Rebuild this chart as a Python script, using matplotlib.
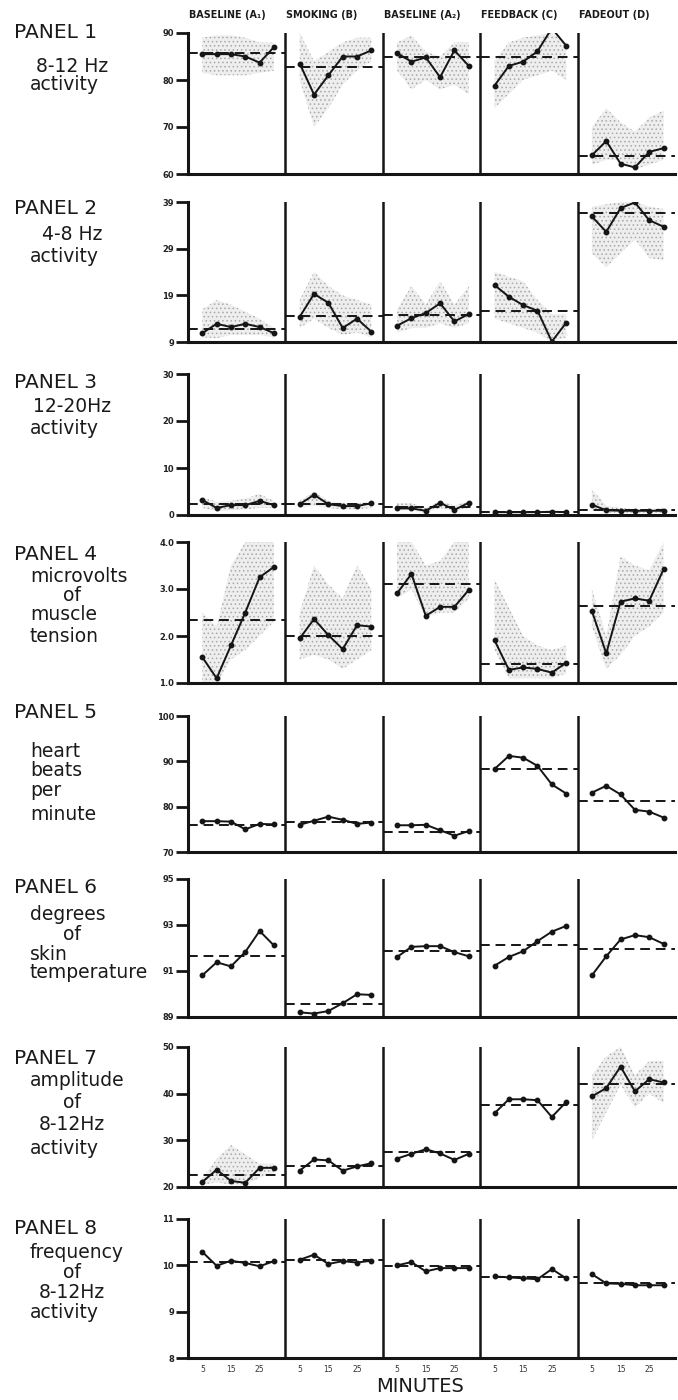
import numpy as np
import matplotlib.pyplot as plt

plt.rcParams['font.family'] = ['DejaVu Sans']
plt.rcParams['hatch.linewidth'] = 0.6

W, H = 678, 1400

phases = ['BASELINE (A₁)', 'SMOKING (B)', 'BASELINE (A₂)', 'FEEDBACK (C)', 'FADEOUT (D)']
minutes = [5, 10, 15, 20, 25, 30]
phase_len = 34
minute_ticks = [5, 15, 25]

# ---- panel 1: 8-12 Hz activity ----
p1_vals = [[85.5, 85.5, 85.5, 85.0, 83.7, 87.0],
           [83.5, 76.9, 81.0, 85.0, 85.0, 86.3],
           [85.7, 83.9, 84.8, 80.6, 86.3, 83.0],
           [78.8, 83.0, 83.9, 86.1, 91.0, 87.3],
           [64.0, 67.0, 62.2, 61.4, 64.7, 65.5]]
p1_mean = [85.7, 82.8, 85.0, 85.0, 63.8]
p1_hi = [[89.0, 89.5, 89.5, 89.0, 88.0, 88.0],
         [90.0, 84.0, 86.0, 88.0, 89.0, 89.0],
         [88.0, 89.5, 86.0, 85.0, 88.0, 88.0],
         [84.0, 88.0, 89.0, 89.5, 90.0, 88.0],
         [70.0, 74.0, 71.0, 69.0, 72.0, 73.5]]
p1_lo = [[81.5, 81.0, 81.0, 81.0, 81.5, 82.0],
         [80.0, 70.0, 74.0, 79.0, 82.0, 84.0],
         [82.0, 78.0, 80.0, 78.0, 79.0, 77.0],
         [74.0, 77.0, 80.0, 81.0, 82.0, 80.0],
         [62.0, 63.0, 63.0, 61.0, 62.0, 63.0]]

# ---- panel 2: 4-8 Hz activity ----
p2_vals = [[10.9, 12.9, 12.2, 12.9, 12.2, 10.9],
           [14.4, 19.3, 17.4, 12.0, 14.0, 11.2],
           [12.5, 14.1, 15.2, 17.3, 13.4, 15.0],
           [21.2, 18.7, 16.9, 15.7, 9.1, 13.1],
           [35.9, 32.6, 37.7, 38.9, 35.1, 33.7]]
p2_mean = [11.7, 14.6, 14.8, 15.6, 36.6]
p2_hi = [[16.0, 18.0, 17.0, 15.5, 14.0, 12.0],
         [18.0, 24.0, 21.0, 19.0, 18.0, 17.0],
         [16.0, 21.0, 17.0, 22.0, 17.0, 21.0],
         [24.0, 23.0, 22.0, 18.0, 15.0, 15.0],
         [38.0, 38.5, 39.0, 39.0, 38.0, 37.5]]
p2_lo = [[10.0, 9.8, 10.5, 10.5, 10.5, 10.0],
         [12.0, 14.0, 12.0, 10.5, 11.0, 10.0],
         [11.0, 12.0, 12.0, 13.0, 12.0, 13.0],
         [14.0, 13.0, 12.0, 11.0, 9.0, 10.0],
         [28.0, 25.0, 28.0, 31.0, 27.0, 26.5]]

# ---- panel 3: 12-20 Hz activity ----
p3_vals = [[3.2, 1.5, 2.1, 2.1, 3.0, 2.1],
           [2.3, 4.3, 2.3, 1.9, 1.9, 2.5],
           [1.4, 1.4, 0.9, 2.6, 1.1, 2.6],
           [0.6, 0.6, 0.6, 0.6, 0.7, 0.6],
           [2.2, 1.0, 0.9, 0.9, 0.9, 0.9]]
p3_mean = [2.3, 2.4, 1.6, 0.6, 1.1]
p3_hi = [[3.8, 2.8, 3.0, 3.5, 4.5, 3.0],
         [3.0, 5.0, 3.0, 2.5, 2.5, 3.0],
         [2.5, 2.5, 1.5, 3.0, 2.0, 3.0],
         None,
         [5.5, 2.0, 1.5, 1.2, 1.2, 1.5]]
p3_lo = [[1.5, 0.8, 1.0, 1.2, 1.5, 1.5],
         [1.5, 2.0, 1.5, 1.2, 1.2, 1.5],
         [1.0, 1.0, 0.5, 1.5, 0.8, 1.5],
         None,
         [1.5, 0.5, 0.5, 0.5, 0.5, 0.5]]

# ---- panel 4: microvolts of muscle tension ----
p4_vals = [[1.55, 1.1, 1.8, 2.5, 3.25, 3.47],
           [1.95, 2.36, 2.02, 1.72, 2.23, 2.2],
           [2.91, 3.32, 2.43, 2.62, 2.62, 2.98],
           [1.91, 1.28, 1.33, 1.30, 1.22, 1.43],
           [2.53, 1.63, 2.73, 2.80, 2.75, 3.42]]
p4_mean = [2.33, 2.0, 3.1, 1.4, 2.64]
p4_hi = [[2.5, 2.2, 3.5, 4.0, 4.0, 4.0],
         [2.5, 3.5, 3.1, 2.8, 3.5, 3.0],
         [4.0, 4.0, 3.5, 3.6, 4.0, 4.0],
         [3.2, 2.6, 2.0, 1.8, 1.7, 1.8],
         [3.0, 2.0, 3.7, 3.5, 3.4, 4.0]]
p4_lo = [[1.0, 1.0, 1.5, 1.7, 2.0, 2.3],
         [1.5, 1.6, 1.5, 1.3, 1.5, 1.7],
         [2.8, 3.0, 2.4, 2.5, 2.5, 2.8],
         [1.7, 1.1, 1.1, 1.1, 1.1, 1.2],
         [2.2, 1.3, 1.6, 2.0, 2.2, 2.5]]

# ---- panel 5: heart beats per minute ----
p5_vals = [[76.8, 76.8, 76.7, 75.0, 76.2, 76.1],
           [76.0, 76.9, 77.8, 77.1, 76.2, 76.5],
           [75.9, 75.9, 76.0, 74.8, 73.6, 74.6],
           [88.3, 91.2, 90.8, 89.0, 84.9, 82.9],
           [83.1, 84.6, 82.7, 79.3, 78.9, 77.6]]
p5_mean = [76.0, 76.6, 74.4, 88.2, 81.3]

# ---- panel 6: degrees of skin temperature ----
p6_vals = [[90.81, 91.38, 91.2, 91.83, 92.74, 92.11],
           [89.2, 89.15, 89.26, 89.6, 89.99, 89.96],
           [91.61, 92.05, 92.08, 92.08, 91.82, 91.64],
           [91.23, 91.61, 91.86, 92.3, 92.71, 92.96],
           [90.81, 91.64, 92.37, 92.56, 92.47, 92.18]]
p6_mean = [91.67, 89.55, 91.89, 92.15, 91.96]

# ---- panel 7: amplitude of 8-12 Hz activity ----
p7_vals = [[21.1, 23.7, 21.3, 20.9, 24.1, 24.1],
           [23.5, 25.9, 25.7, 23.5, 24.4, 25.1],
           [26.1, 27.1, 28.1, 27.2, 25.8, 27.1],
           [35.8, 38.8, 38.8, 38.6, 35.0, 38.2],
           [39.4, 41.2, 45.8, 40.5, 43.1, 42.4]]
p7_mean = [22.5, 24.6, 27.4, 37.6, 42.1]
p7_hi = [[22.0, 26.0, 29.0, 27.0, 25.0, 25.0],
         None, None, None,
         [44.0, 48.0, 50.0, 44.0, 47.0, 47.0]]
p7_lo = [[20.5, 21.0, 20.5, 20.5, 22.0, 23.0],
         None, None, None,
         [30.0, 36.0, 42.0, 37.0, 40.0, 38.0]]

# ---- panel 8: frequency of 8-12 Hz activity ----
p8_vals = [[10.29, 9.99, 10.1, 10.05, 9.98, 10.09],
           [10.12, 10.23, 10.03, 10.09, 10.06, 10.1],
           [10.0, 10.07, 9.87, 9.94, 9.94, 9.94],
           [9.76, 9.74, 9.72, 9.70, 9.92, 9.72],
           [9.81, 9.61, 9.60, 9.57, 9.57, 9.57]]
p8_mean = [10.07, 10.11, 9.98, 9.74, 9.62]

panel_vals = [p1_vals, p2_vals, p3_vals, p4_vals, p5_vals, p6_vals, p7_vals, p8_vals]
panel_means = [p1_mean, p2_mean, p3_mean, p4_mean, p5_mean, p6_mean, p7_mean, p8_mean]
panel_hi = [p1_hi, p2_hi, p3_hi, p4_hi, None, None, p7_hi, None]
panel_lo = [p1_lo, p2_lo, p3_lo, p4_lo, None, None, p7_lo, None]

y_ticks = [[60, 70, 80, 90], [9, 19, 29, 39], [0, 10, 20, 30], [1.0, 2.0, 3.0, 4.0],
           [70, 80, 90, 100], [89, 91, 93, 95], [20, 30, 40, 50], [8, 9, 10, 11]]
y_ticklabels = [['60', '70', '80', '90'], ['9', '19', '29', '39'], ['0', '10', '20', '30'],
                ['1.0', '2.0', '3.0', '4.0'], ['70', '80', '90', '100'],
                ['89', '91', '93', '95'], ['20', '30', '40', '50'], ['8', '9', '10', '11']]

panel_names = ['PANEL 1', 'PANEL 2', 'PANEL 3', 'PANEL 4',
               'PANEL 5', 'PANEL 6', 'PANEL 7', 'PANEL 8']
panel_sub = [['8-12 Hz', 'activity'], ['4-8 Hz', 'activity'], ['12-20Hz', 'activity'],
             ['microvolts', 'of', 'muscle', 'tension'], ['heart', 'beats', 'per', 'minute'],
             ['degrees', 'of', 'skin', 'temperature'], ['amplitude', 'of', '8-12Hz', 'activity'],
             ['frequency', 'of', '8-12Hz', 'activity']]

# layout (pixel rows of each panel, text rows)
ax_rows = [(33, 174), (202, 342), (374, 515), (542, 683),
           (716, 852), (879, 1017), (1047, 1187), (1219, 1358)]
name_y = [32, 208, 382, 555, 713, 888, 1058, 1228]
sub_y = [[66, 85], [235, 256], [407, 428], [576, 595, 614, 636],
         [751, 771, 791, 814], [914, 934, 954, 973],
         [1080, 1103, 1125, 1148], [1252, 1272, 1293, 1313]]
ax_left, ax_right = 188, 675

fig = plt.figure(figsize=(W / 100, H / 100), dpi=100)


def fx(x):
    return x / W


def fy(y):
    return 1 - y / H


for i in range(8):
    top, bot = ax_rows[i]
    ax = fig.add_axes([fx(ax_left), fy(bot), fx(ax_right - ax_left), (bot - top) / H])
    lo_lim, hi_lim = y_ticks[i][0], y_ticks[i][-1]
    ax.set_ylim(lo_lim, hi_lim)
    ax.set_xlim(0, phase_len * len(phases))
    for k in range(len(phases)):
        xs = np.array(minutes) + phase_len * k
        if panel_hi[i] is not None and panel_hi[i][k] is not None:
            ax.fill_between(xs, panel_lo[i][k], panel_hi[i][k], facecolor='#eeeeee',
                            edgecolor='#a8a8a8', hatch='....', linewidth=0, zorder=1)
        ax.plot(xs, panel_vals[i][k], color='#151515', lw=1.4, marker='o', ms=3.2, zorder=3)
        ax.hlines(panel_means[i][k], phase_len * k, phase_len * (k + 1), colors='#151515',
                  linestyles=(0, (5, 3)), lw=1.4, zorder=2)
        if k > 0:
            ax.axvline(phase_len * k, color='#151515', lw=1.8, zorder=2)
    for s in ['top', 'right']:
        ax.spines[s].set_visible(False)
    ax.spines['left'].set_linewidth(2.2)
    ax.spines['bottom'].set_linewidth(2.2)
    ax.spines['left'].set_color('#151515')
    ax.spines['bottom'].set_color('#151515')
    ax.set_yticks(y_ticks[i])
    ax.set_yticklabels(y_ticklabels[i], fontsize=6, fontweight='bold', color='#222222')
    ax.tick_params(axis='y', direction='out', length=9, width=2, pad=1, color='#151515')
    if i == 7:
        xt = [m + phase_len * k for k in range(len(phases)) for m in minute_ticks]
        ax.set_xticks(xt)
        ax.set_xticklabels([str(m) for k in range(len(phases)) for m in minute_ticks],
                           fontsize=5.5, color='#333333')
        ax.tick_params(axis='x', length=0, pad=5)
    else:
        ax.set_xticks([])

    fig.text(fx(14), fy(name_y[i]), panel_names[i], fontsize=14.5, va='center', ha='left',
             color='#1a1a1a')
    for txt, yy in zip(panel_sub[i], sub_y[i]):
        if txt == 'of' or 'Hz' in txt:
            fig.text(fx(72), fy(yy), txt, fontsize=13.5, va='center', ha='center', color='#1a1a1a')
        else:
            fig.text(fx(30), fy(yy), txt, fontsize=13.5, va='center', ha='left', color='#1a1a1a')

# phase headers
for k, name in enumerate(phases):
    x0 = ax_left + (ax_right - ax_left) * k / len(phases)
    fig.text(fx(x0 + 1), fy(15), name, fontsize=6.9, fontweight='bold', ha='left',
             va='center', color='#1a1a1a')

fig.text(fx(420), fy(1387), 'MINUTES', fontsize=14, ha='center', va='center', color='#1a1a1a')

fig.savefig('out.png', dpi=100, facecolor='white')
